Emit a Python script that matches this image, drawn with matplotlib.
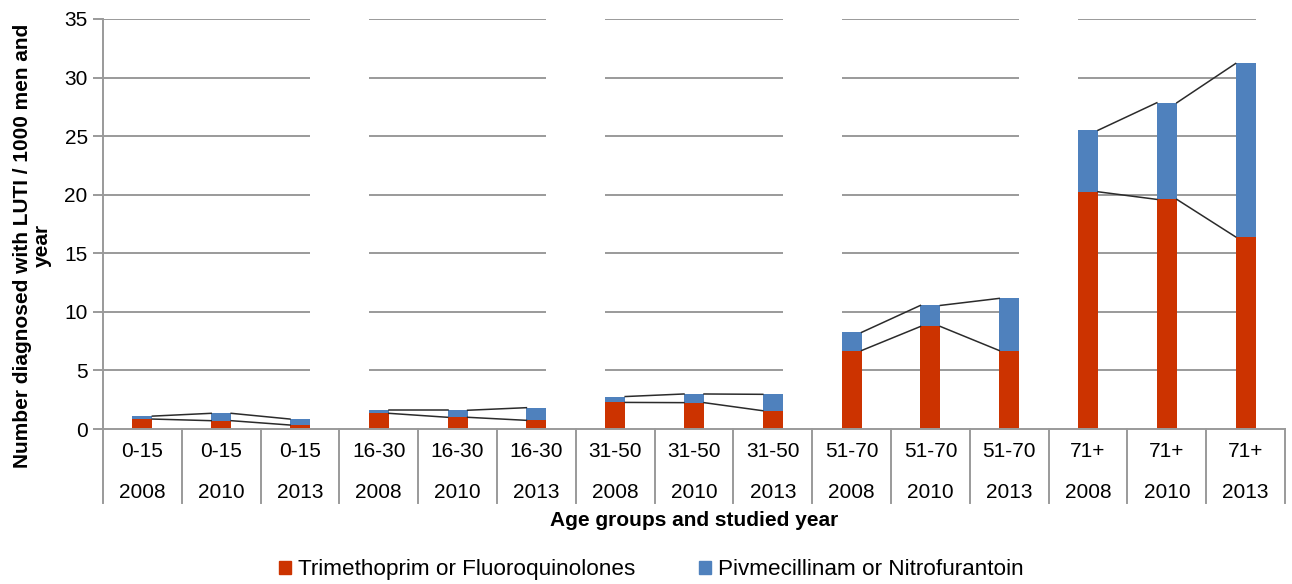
import matplotlib
matplotlib.use("Agg")
import matplotlib.pyplot as plt
from matplotlib.patches import Patch

plt.rcParams['font.family'] = ['Liberation Sans', 'DejaVu Sans']

# Data per kategori (kelompok umur x tahun)
age_groups = ["0-15", "16-30", "31-50", "51-70", "71+"]
years = ["2008", "2010", "2013"]
trim_fluoro = [0.85, 0.71, 0.34, 1.34, 1.0, 0.74, 2.27, 2.25, 1.56,
               6.7, 8.75, 6.7, 20.25, 19.6, 16.4]
pivme_nitro = [0.25, 0.63, 0.51, 0.26, 0.6, 1.08, 0.5, 0.74, 1.4,
               1.55, 1.8, 4.45, 5.25, 8.25, 14.8]
y_ticks = [0, 5, 10, 15, 20, 25, 30, 35]

RED = '#CC3300'
BLUE = '#4F81BD'
GRID = '#9a9a9a'
BAR_W = 0.254
TICK_FS = 15


def plot_luti():
    fig = plt.figure(figsize=(12.92, 5.84), dpi=100)
    ax = fig.add_axes([0.0797, 0.2654, 0.9149, 0.7021])

    n_years = len(years)
    x = list(range(len(trim_fluoro)))
    totals = [a + b for a, b in zip(trim_fluoro, pivme_nitro)]

    ax.set_xlim(-0.5, len(x) - 0.5)
    ax.set_ylim(0, 35)

    # Garis grid hanya di dalam tiap kelompok umur
    for g in range(len(age_groups)):
        start = -0.5 if g == 0 else g * n_years - BAR_W / 2
        end = g * n_years + n_years - 1 + BAR_W / 2
        ax.hlines(y_ticks[1:], start, end, colors=GRID, lw=1.4, zorder=1)

    ax.bar(x, trim_fluoro, width=BAR_W, color=RED, zorder=2)
    ax.bar(x, pivme_nitro, width=BAR_W, bottom=trim_fluoro, color=BLUE, zorder=2)

    # Garis penghubung antar tahun
    for g in range(len(age_groups)):
        for k in range(n_years - 1):
            i = g * n_years + k
            xs = [x[i] + BAR_W / 2, x[i + 1] - BAR_W / 2]
            ax.plot(xs, [trim_fluoro[i], trim_fluoro[i + 1]], color='#2b2b2b', lw=1.1, zorder=3)
            ax.plot(xs, [totals[i], totals[i + 1]], color='#2b2b2b', lw=1.1, zorder=3)

    # Sumbu
    for side in ['top', 'right']:
        ax.spines[side].set_visible(False)
    for side in ['left', 'bottom']:
        ax.spines[side].set_color(GRID)
        ax.spines[side].set_linewidth(1.4)
    ax.set_yticks(y_ticks)
    ax.tick_params(axis='y', direction='out', length=7, width=1.4, color=GRID,
                   labelsize=TICK_FS, pad=4)
    ax.set_xticks([])

    # Label kategori dua baris + garis pemisah
    trans = ax.get_xaxis_transform()
    for i in x:
        ax.text(i, -0.056, age_groups[i // n_years], transform=trans,
                ha='center', va='center', fontsize=TICK_FS)
        ax.text(i, -0.154, years[i % n_years], transform=trans,
                ha='center', va='center', fontsize=TICK_FS)
    for b in range(len(x) + 1):
        ax.plot([b - 0.5, b - 0.5], [0, -0.18], transform=trans, color=GRID,
                lw=1.4, clip_on=False)

    fig.text(0.0248, 0.579, "Number diagnosed with LUTI / 1000 men and\nyear",
             rotation=90, ha='center', va='center', fontsize=15,
             fontweight='bold', linespacing=1.05)
    fig.text(0.537, 0.109, "Age groups and studied year", ha='center',
             va='center', fontsize=15, fontweight='bold')

    handles = [Patch(color=RED, label='Trimethoprim or Fluoroquinolones'),
               Patch(color=BLUE, label='Pivmecillinam or Nitrofurantoin')]
    fig.legend(handles=handles, loc='center', bbox_to_anchor=(0.504, 0.024),
               ncol=2, frameon=False, fontsize=16.2, handlelength=0.55,
               handleheight=0.55, handletextpad=0.3, columnspacing=2.8)

    fig.savefig("out.png", dpi=100)
    plt.close(fig)


plot_luti()
